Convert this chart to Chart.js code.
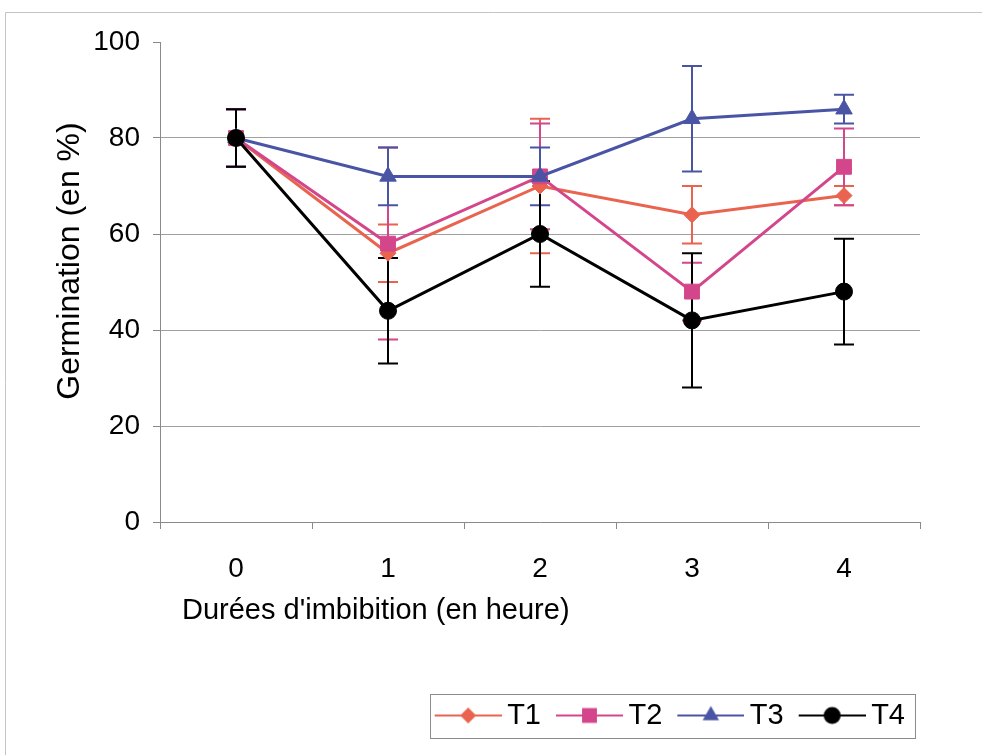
<!DOCTYPE html>
<html>
<head>
<meta charset="utf-8">
<script src="https://cdn.jsdelivr.net/npm/chart.js@4/dist/chart.umd.min.js"></script>
<style>
  html, body { margin: 0; padding: 0; background: #ffffff; }
  #wrap { width: 982px; height: 755px; position: relative; }
  canvas { display: block; }
</style>
</head>
<body>
<div id="wrap"><canvas id="chart" width="982" height="755"></canvas></div>
<script>
// Germination (%) after different soaking durations, four treatments
const durations = ['0', '1', '2', '3', '4'];
const seriesNames = ['T1', 'T2', 'T3', 'T4'];
const t1 = [80, 56, 70, 64, 68];
const t2 = [80, 58, 72, 48, 74];
const t3 = [80, 72, 72, 84, 86];
const t4 = [80, 44, 60, 42, 48];
// half-width of the error bars
const t1Err = [6, 6, 14, 6, 2];
const t2Err = [6, 20, 11, 6, 8];
const t3Err = [6, 6, 6, 11, 3];
const t4Err = [6, 11, 11, 14, 11];
const yTicks = [0, 20, 40, 60, 80, 100];
const xTitle = "Durées d'imbibition (en heure)";
const yTitle = 'Germination (en %)';

const FONT = '"Liberation Sans", Arial, Helvetica, sans-serif';
const colors = ['#E9634F', '#D4468B', '#4A54A4', '#000000'];
const styles = ['rectRot', 'rect', 'triangle', 'circle'];
const radii = [8, 10.5, 9.5, 8.5];
const values = [t1, t2, t3, t4];
const errors = [t1Err, t2Err, t3Err, t4Err];

// legend geometry: the icon line starts at the item's left edge and runs
// a little past the box, towards the label text
const LEGEND_BOX = 58;
const ICON_TAIL = 9;
const LEGEND_FONT = 29;

function drawMarker(ctx, style, r, x, y) {
  ctx.beginPath();
  if (style === 'circle') {
    ctx.arc(x, y, r, 0, Math.PI * 2);
  } else if (style === 'rect') {
    const s = r * Math.SQRT1_2;
    ctx.rect(x - s, y - s, 2 * s, 2 * s);
  } else if (style === 'rectRot') {
    ctx.moveTo(x, y - r); ctx.lineTo(x + r, y); ctx.lineTo(x, y + r); ctx.lineTo(x - r, y);
    ctx.closePath();
  } else if (style === 'triangle') {
    for (let k = 0; k < 3; k++) {
      const a = k * 2 * Math.PI / 3;
      const px = x + Math.sin(a) * r, py = y - Math.cos(a) * r;
      if (k === 0) ctx.moveTo(px, py); else ctx.lineTo(px, py);
    }
    ctx.closePath();
  }
  ctx.fill();
}
function makeIcon(i) {
  const c = document.createElement('canvas');
  c.width = LEGEND_BOX + 2 * ICON_TAIL;
  c.height = 24;
  const g = c.getContext('2d');
  const x0 = ICON_TAIL, x1 = c.width;
  g.strokeStyle = colors[i];
  g.lineWidth = 2;
  g.beginPath(); g.moveTo(x0, 12); g.lineTo(x1, 12); g.stroke();
  g.fillStyle = colors[i];
  drawMarker(g, styles[i], radii[i], (x0 + x1) / 2, 12);
  return c;
}
const icons = seriesNames.map((_, i) => makeIcon(i));

const datasets = seriesNames.map((name, i) => ({
  label: name,
  data: values[i],
  borderColor: colors[i],
  backgroundColor: colors[i],
  borderWidth: 3,
  pointStyle: styles[i],
  pointRadius: radii[i],
  pointHoverRadius: radii[i],
  pointBackgroundColor: colors[i],
  pointBorderColor: colors[i],
  pointBorderWidth: 1,
  tension: 0,
  fill: false,
  order: 4 - i
}));

// vertical error bars with caps, drawn under the series
const errorBars = {
  id: 'errorBars',
  beforeDatasetsDraw(chart) {
    const { ctx, scales: { x, y } } = chart;
    ctx.save();
    values.forEach((vals, i) => {
      ctx.strokeStyle = colors[i];
      ctx.lineWidth = 2;
      vals.forEach((v, j) => {
        const e = errors[i][j];
        const px = x.getPixelForValue(j);
        const top = y.getPixelForValue(v + e);
        const bot = y.getPixelForValue(v - e);
        ctx.beginPath();
        ctx.moveTo(px, top); ctx.lineTo(px, bot);
        ctx.moveTo(px - 10, top); ctx.lineTo(px + 10, top);
        ctx.moveTo(px - 10, bot); ctx.lineTo(px + 10, bot);
        ctx.stroke();
      });
    });
    ctx.restore();
  }
};

// axis titles, legend frame and outer frame
const decorations = {
  id: 'decorations',
  afterDraw(chart) {
    const { ctx, chartArea } = chart;
    ctx.save();
    ctx.fillStyle = '#000';
    ctx.textBaseline = 'middle';
    ctx.textAlign = 'left';
    ctx.font = '29px ' + FONT;
    ctx.fillText(xTitle, chartArea.left + 22, 611);
    ctx.font = '32px ' + FONT;
    ctx.translate(70, 261);
    ctx.rotate(-Math.PI / 2);
    ctx.textAlign = 'center';
    ctx.fillText(yTitle, 0, 0);
    ctx.restore();

    const boxes = chart.legend && chart.legend.legendHitBoxes;
    if (boxes && boxes.length) {
      const first = boxes[0], last = boxes[boxes.length - 1];
      const cy = first.top + first.height / 2;
      ctx.save();
      ctx.strokeStyle = '#8c8c8c';
      ctx.lineWidth = 1;
      const l = Math.round(first.left - 5) + 0.5;
      const r = Math.round(last.left + last.width + 10) + 0.5;
      ctx.strokeRect(l, Math.round(cy - 22) + 0.5, r - l, 44);
      ctx.restore();
    }

    ctx.save();
    ctx.strokeStyle = '#c4c4c4';
    ctx.lineWidth = 1;
    ctx.beginPath();
    ctx.moveTo(5.5, 755); ctx.lineTo(5.5, 12.5); ctx.lineTo(982, 12.5);
    ctx.stroke();
    ctx.restore();
  }
};

const whiteBg = {
  id: 'whiteBg',
  beforeDraw(chart) {
    const { ctx, width, height } = chart;
    ctx.save();
    ctx.fillStyle = '#ffffff';
    ctx.fillRect(0, 0, width, height);
    ctx.restore();
  }
};

new Chart(document.getElementById('chart'), {
  type: 'line',
  data: { labels: durations, datasets },
  options: {
    responsive: false,
    animation: false,
    devicePixelRatio: 1,
    layout: { padding: { top: 42, right: 62, bottom: 15, left: 0 } },
    plugins: {
      tooltip: { enabled: false },
      title: { display: false },
      legend: {
        display: true,
        position: 'bottom',
        align: 'end',
        labels: {
          usePointStyle: true,
          pointStyleWidth: LEGEND_BOX,
          padding: 15,
          color: '#000',
          font: { family: FONT, size: LEGEND_FONT },
          generateLabels: () => seriesNames.map((name, i) => ({
            text: name,
            pointStyle: icons[i],
            fillStyle: colors[i],
            strokeStyle: colors[i],
            lineWidth: 0,
            hidden: false,
            datasetIndex: i,
            fontColor: '#000'
          }))
        }
      }
    },
    scales: {
      x: {
        type: 'category',
        offset: true,
        afterFit(scale) { scale.height = 164; },
        grid: {
          display: true,
          offset: true,
          drawOnChartArea: false,
          drawTicks: true,
          tickLength: 7,
          tickColor: '#8a8a8a',
          color: '#8a8a8a'
        },
        border: { display: true, color: '#8a8a8a', width: 1 },
        ticks: {
          color: '#000',
          padding: 23,
          maxRotation: 0,
          font: { family: FONT, size: 28 }
        },
        title: { display: false }
      },
      y: {
        min: 0,
        max: 100,
        afterFit(scale) { scale.width = 160; },
        afterBuildTicks(scale) { scale.ticks = yTicks.map(v => ({ value: v })); },
        grid: {
          drawTicks: true,
          tickLength: 7,
          tickColor: '#8a8a8a',
          color: (c) => (c.tick && (c.tick.value === 100 || c.tick.value === 0)) ? 'rgba(0,0,0,0)' : '#a0a0a0',
          lineWidth: 1
        },
        border: { display: true, color: '#8a8a8a', width: 1 },
        ticks: {
          color: '#000',
          padding: 13,
          font: { family: FONT, size: 28 }
        },
        title: { display: false }
      }
    }
  },
  plugins: [whiteBg, errorBars, decorations]
});
</script>
</body>
</html>
